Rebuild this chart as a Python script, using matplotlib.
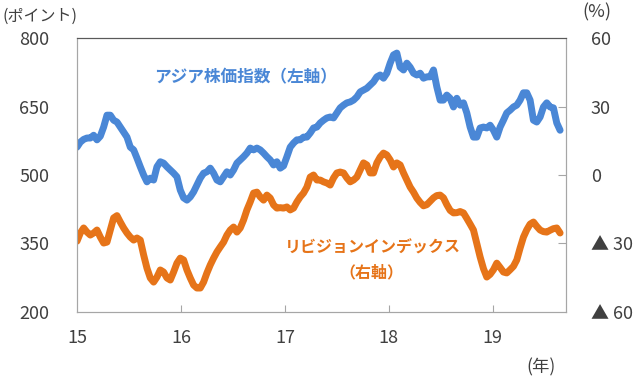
import numpy as np
import matplotlib
matplotlib.use('Agg')
import matplotlib.pyplot as plt

plt.rcParams['font.family'] = ['Noto Sans CJK JP', 'DejaVu Sans']

# アジア株価指数 (左軸, ポイント) と リビジョンインデックス (右軸, %)
asia_index = [561, 572, 578, 581, 581, 587, 577, 585, 605, 631, 631, 620, 616, 605, 594, 583,
              561, 555, 537, 518, 500, 485, 493, 489, 518, 529, 526, 518, 511, 504, 496, 467,
              450, 445, 452, 463, 478, 493, 504, 507, 515, 504, 489, 485, 496, 507, 500, 511,
              526, 533, 540, 548, 559, 555, 559, 555, 548, 540, 533, 522, 529, 515, 520, 540,
              561, 570, 577, 577, 583, 583, 592, 603, 605, 614, 620, 625, 627, 625, 636, 647,
              653, 658, 660, 664, 671, 682, 686, 690, 697, 704, 715, 719, 712, 723, 745, 763,
              767, 736, 730, 745, 736, 723, 719, 723, 712, 715, 715, 730, 693, 664, 664, 675,
              668, 649, 668, 653, 658, 636, 605, 583, 583, 603, 605, 603, 609, 598, 583, 605,
              620, 636, 642, 649, 653, 664, 680, 680, 664, 620, 616, 627, 649, 658, 649, 647,
              614, 598]
revision = [-29, -25.4, -23.2, -25, -26.3, -25.4, -24.1, -27.2, -29.8, -29.4, -24.1, -18.8,
            -17.8, -20.6, -23.2, -25.4, -27.2, -28.5, -27.6, -28.5, -35, -40.8, -45.1, -46.9,
            -44.7, -41.6, -42.5, -45.1, -46, -42.5, -38.6, -36.4, -37.2, -41.6, -45.1, -48.2,
            -49.5, -49.5, -46.9, -42.9, -39.4, -36.4, -33.7, -31.5, -29.4, -26.3, -24.1, -22.8,
            -25, -23.2, -19.7, -15.3, -11.8, -7.9, -7.5, -9.6, -11, -8.8, -10.1, -13.1,
            -14.5, -14.3, -14.5, -14, -15.3, -14.5, -11.8, -9.6, -7.9, -5.3, -0.9, 0,
            -2.2, -2.2, -3, -3.5, -4.4, -1.3, 0.9, 1.3, 0.9, -1.3, -3, -2.2,
            -0.9, 2.2, 5.3, 4.4, 0.9, 0.9, 5.3, 7.9, 9.6, 8.8, 6.6, 3.5,
            5.3, 4.4, 0.9, -2.2, -5.3, -7.5, -10.1, -12, -13.5, -13, -11.5, -10,
            -9, -8.8, -10, -13, -15.5, -16.6, -16.5, -16, -16.6, -19, -21.5, -24.1,
            -30, -35.9, -41, -44.7, -43.5, -41.5, -38.6, -40.5, -42.5, -42.9, -41.5, -40,
            -37.2, -32, -27.2, -24, -21.5, -20.6, -22.5, -24.1, -24.8, -25, -24.2, -23.5,
            -23.2, -25.4]
# 週次に近い間隔 (年, 2015=15)
dates = 15 + np.arange(len(asia_index)) / 31.2

x_ticks = [15, 16, 17, 18, 19]
left_ticks = [200, 350, 500, 650, 800]
right_ticks = [60, 30, 0, -30, -60]
right_labels = ['60', '30', '0', '▲ 30', '▲ 60']

blue = '#4a87d6'
orange = '#e67419'
txt = '#404040'
grey = '#a6a6a6'

fig = plt.figure(figsize=(6.4, 3.79), dpi=100)
ax = fig.add_axes([0.1203, 0.1768, 0.7637, 0.7229])
ax2 = ax.twinx()

ax.plot(dates, asia_index, color=blue, lw=5, solid_capstyle='round', solid_joinstyle='round')
ax2.plot(dates, revision, color=orange, lw=5, solid_capstyle='round', solid_joinstyle='round')

ax.set_xlim(15, 19.702)
ax.set_ylim(200, 800)
ax2.set_ylim(-60, 60)

ax.set_xticks(x_ticks)
ax.set_yticks(left_ticks)
ax2.set_yticks(right_ticks)
ax2.set_yticklabels(right_labels)

ax.tick_params(axis='x', direction='in', length=5, color=grey, labelsize=13, labelcolor=txt, pad=12)
ax.tick_params(axis='y', direction='in', length=0, labelsize=13, labelcolor=txt, pad=20)
ax2.tick_params(axis='y', direction='in', length=6, color=grey, labelsize=13, labelcolor=txt, pad=18)
ax.xaxis.get_major_ticks()[0].tick1line.set_visible(False)
ax2.yaxis.get_major_ticks()[0].tick2line.set_visible(False)
ax2.yaxis.get_major_ticks()[-1].tick2line.set_visible(False)

for a in (ax, ax2):
    for side in ('left', 'right', 'bottom'):
        a.spines[side].set_color(grey)
    a.spines['top'].set_color('#595959')

fig.text(0.383, 0.797, 'アジア株価指数（左軸）', color=blue, fontsize=12, fontweight='bold',
         ha='center', va='center')
fig.text(0.583, 0.346, 'リビジョンインデックス', color=orange, fontsize=11.5, fontweight='bold',
         ha='center', va='center')
fig.text(0.581, 0.280, '（右軸）', color=orange, fontsize=11.5, fontweight='bold',
         ha='center', va='center')

fig.text(0.004, 0.958, '(ポイント)', color=txt, fontsize=11.5, ha='left', va='center')
fig.text(0.932, 0.968, '(%)', color=txt, fontsize=13, ha='center', va='center')
fig.text(0.846, 0.03, '(年)', color=txt, fontsize=12.5, ha='center', va='center')

fig.savefig('out.png', dpi=100, facecolor='white')
